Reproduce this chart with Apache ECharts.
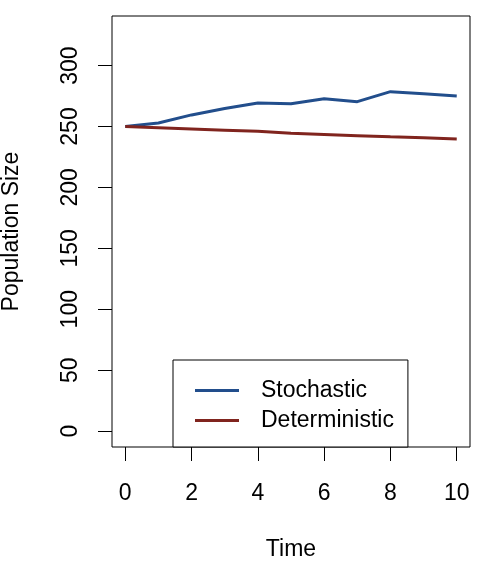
<!DOCTYPE html>
<html>
<head>
<meta charset="utf-8">
<script src="https://cdn.jsdelivr.net/npm/echarts@6/dist/echarts.min.js"></script>
<style>
  html, body { margin: 0; padding: 0; background: #fff; }
  #chart { width: 502px; height: 562px; }
</style>
</head>
<body>
<div id="chart"></div>
<script>
// values
const time = [0, 1, 2, 3, 4, 5, 6, 7, 8, 9, 10];
const stochastic = [250, 252.8, 259.5, 264.8, 269.3, 268.6, 272.8, 270.4, 278.6, 276.8, 275];
const deterministic = [250, 249, 248, 247, 246, 244.5, 243.5, 242.5, 241.5, 240.7, 239.8];
const xTicks = [0, 2, 4, 6, 8, 10];
const yTicks = [0, 50, 100, 150, 200, 250, 300];

const FONT = 'Liberation Sans, Arial, sans-serif';
const LINE_ICON = 'path://M0,0L44,0L44,3L0,3Z';

const pairs = (ys) => time.map((t, i) => [t, ys[i]]);

const chart = echarts.init(document.getElementById('chart'), null, { renderer: 'canvas' });

chart.setOption({
    animation: false,
    backgroundColor: '#fff',
    grid: {
        left: 112, right: 32, top: 16, bottom: 115,
        outerBoundsMode: 'none',
        containLabel: false,
        show: true, borderColor: '#000', borderWidth: 1, backgroundColor: 'transparent'
    },
    xAxis: {
        type: 'value',
        min: -0.4, max: 10.4,
        name: 'Time',
        nameLocation: 'middle',
        nameGap: 91,
        nameTextStyle: { color: '#000', fontSize: 23, fontFamily: FONT },
        axisLine: { show: false, onZero: false },
        splitLine: { show: false },
        axisTick: { show: true, inside: false, length: 14, customValues: xTicks, lineStyle: { color: '#000', width: 1 } },
        axisLabel: { customValues: xTicks, margin: 35, color: '#000', fontSize: 23, fontFamily: FONT }
    },
    yAxis: {
        type: 'value',
        min: -13.1, max: 340.7,
        name: 'Population Size',
        nameLocation: 'middle',
        nameGap: 89,
        nameTextStyle: { color: '#000', fontSize: 23, fontFamily: FONT },
        axisLine: { show: false, onZero: false },
        splitLine: { show: false },
        axisTick: { show: true, inside: false, length: 14, customValues: yTicks, lineStyle: { color: '#000', width: 1 } },
        axisLabel: { customValues: yTicks, rotate: 90, margin: 30, color: '#000', fontSize: 23, fontFamily: FONT }
    },
    legend: {
        orient: 'vertical',
        left: 173, top: 360,
        padding: [19, 14, 15, 22],
        itemWidth: 44, itemHeight: 23, itemGap: 7,
        borderColor: '#000', borderWidth: 1, borderRadius: 0,
        backgroundColor: '#fff',
        textStyle: { color: '#000', fontSize: 23, fontFamily: FONT, padding: [0, 0, 0, 17] },
        data: [
            { name: 'Stochastic', icon: LINE_ICON },
            { name: 'Deterministic', icon: LINE_ICON }
        ]
    },
    series: [
        {
            name: 'Stochastic', type: 'line', data: pairs(stochastic),
            symbol: 'none', color: '#224E8C',
            lineStyle: { width: 3, color: '#224E8C' }
        },
        {
            name: 'Deterministic', type: 'line', data: pairs(deterministic),
            symbol: 'none', color: '#80241E',
            lineStyle: { width: 3, color: '#80241E' }
        }
    ]
});
</script>
</body>
</html>
